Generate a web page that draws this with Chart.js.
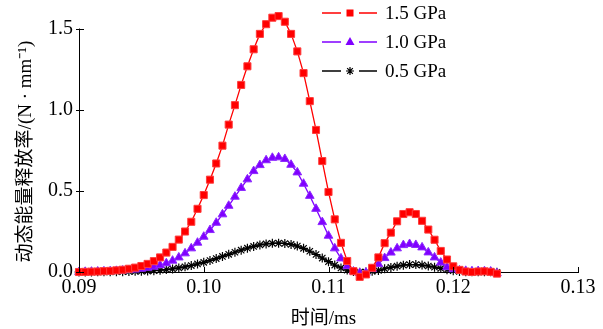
<!DOCTYPE html>
<html>
<head>
<meta charset="utf-8">
<script src="https://cdn.jsdelivr.net/npm/chart.js@4.4.1/dist/chart.umd.min.js"></script>
<style>
  body { margin: 0; background: #fff; }
  #wrap { width: 603px; height: 329px; }
</style>
</head>
<body>
<div id="wrap"><canvas id="myChart" width="603" height="329"></canvas></div>
<script>
// time axis (ms), one sample every 0.0005 ms
const times = [
  0.0900, 0.0905, 0.0910, 0.0915, 0.0920, 0.0925, 0.0930, 0.0935, 0.0940, 0.0945,
  0.0950, 0.0955, 0.0960, 0.0965, 0.0970, 0.0975, 0.0980, 0.0985, 0.0990, 0.0995,
  0.1000, 0.1005, 0.1010, 0.1015, 0.1020, 0.1025, 0.1030, 0.1035, 0.1040, 0.1045,
  0.1050, 0.1055, 0.1060, 0.1065, 0.1070, 0.1075, 0.1080, 0.1085, 0.1090, 0.1095,
  0.1100, 0.1105, 0.1110, 0.1115, 0.1120, 0.1125, 0.1130, 0.1135, 0.1140, 0.1145,
  0.1150, 0.1155, 0.1160, 0.1165, 0.1170, 0.1175, 0.1180, 0.1185, 0.1190, 0.1195,
  0.1200, 0.1205, 0.1210, 0.1215, 0.1220, 0.1225, 0.1230, 0.1235
];

// 1.5 GPa
const gpa15 = [
  0.000, 0.001, 0.002, 0.003, 0.005, 0.007, 0.010, 0.014, 0.020, 0.027,
  0.037, 0.050, 0.067, 0.090, 0.120, 0.155, 0.200, 0.250, 0.310, 0.390,
  0.475, 0.570, 0.670, 0.780, 0.910, 1.030, 1.155, 1.270, 1.375, 1.470,
  1.530, 1.570, 1.580, 1.545, 1.470, 1.362, 1.228, 1.055, 0.877, 0.685,
  0.494, 0.325, 0.180, 0.068, 0.005, -0.030, -0.015, 0.026, 0.090, 0.178,
  0.243, 0.313, 0.358, 0.369, 0.358, 0.316, 0.262, 0.199, 0.130, 0.077,
  0.035, 0.013, 0.003, 0.000, 0.003, 0.004, 0.001, -0.010
];

// 1.0 GPa
const gpa10 = [
  0.000, 0.001, 0.002, 0.003, 0.004, 0.005, 0.007, 0.009, 0.012, 0.015,
  0.020, 0.026, 0.033, 0.042, 0.054, 0.070, 0.090, 0.115, 0.146, 0.181,
  0.218, 0.259, 0.304, 0.356, 0.409, 0.465, 0.519, 0.572, 0.623, 0.660,
  0.690, 0.705, 0.708, 0.698, 0.662, 0.615, 0.545, 0.470, 0.390, 0.308,
  0.224, 0.146, 0.084, 0.036, 0.003, -0.006, -0.004, 0.018, 0.049, 0.086,
  0.120, 0.146, 0.166, 0.173, 0.167, 0.152, 0.121, 0.090, 0.058, 0.030,
  0.017, 0.010, 0.007, 0.005, 0.006, 0.005, 0.003, -0.008
];

// 0.5 GPa
const gpa05 = [
  0.000, 0.000, 0.000, 0.001, 0.001, 0.001, 0.002, 0.002, 0.003, 0.004,
  0.005, 0.006, 0.008, 0.011, 0.015, 0.019, 0.025, 0.032, 0.040, 0.050,
  0.060, 0.071, 0.083, 0.096, 0.109, 0.122, 0.135, 0.147, 0.158, 0.167,
  0.173, 0.177, 0.178, 0.176, 0.170, 0.160, 0.146, 0.128, 0.108, 0.086,
  0.064, 0.043, 0.025, 0.012, 0.003, -0.001, 0.000, 0.004, 0.010, 0.020,
  0.028, 0.036, 0.042, 0.046, 0.046, 0.043, 0.037, 0.030, 0.022, 0.014,
  0.008, 0.003, 0.002, 0.002, 0.001, 0.001, 0.001, -0.002
];

const seriesNames = ["1.5 GPa", "1.0 GPa", "0.5 GPa"];
const xTicks = [0.09, 0.10, 0.11, 0.12, 0.13];
const yTicks = [0.0, 0.5, 1.0, 1.5];
const xTitle = "时间/ms";
const yTitle = "动态能量释放率/(N · mm⁻¹)";

const serif = "'Liberation Serif', 'Times New Roman', 'Noto Sans CJK SC', serif";

const toPoints = (ys) => times.map((t, i) => ({ x: t, y: ys[i] }));

const datasets = [
  {
    label: seriesNames[0],
    data: toPoints(gpa15),
    borderColor: "rgb(255, 0, 0)",
    backgroundColor: "rgb(255, 0, 0)",
    pointStyle: "rect",
    pointRadius: 5,
    pointBorderWidth: 1,
    pointBorderColor: "rgb(255, 60, 60)",
    borderWidth: 1.3,
    clip: false,
  },
  {
    label: seriesNames[1],
    data: toPoints(gpa10),
    borderColor: "rgb(128, 0, 255)",
    backgroundColor: "rgb(128, 0, 255)",
    pointStyle: "triangle",
    pointRadius: 5,
    pointBorderWidth: 1,
    pointBorderColor: "rgb(140, 40, 255)",
    borderWidth: 1.3,
    clip: false,
  },
  {
    label: seriesNames[2],
    data: toPoints(gpa05),
    borderColor: "rgb(0, 0, 0)",
    backgroundColor: "rgb(0, 0, 0)",
    pointStyle: "star",
    pointRadius: 4.5,
    pointBorderWidth: 1.2,
    borderWidth: 1.3,
    clip: false,
  },
];

// small markers for the legend
const drawMarker = (ctx, style, x, y, color) => {
  ctx.save();
  ctx.fillStyle = color;
  ctx.strokeStyle = color;
  ctx.lineWidth = 1.2;
  if (style === "rect") {
    ctx.fillRect(x - 3.5, y - 3.5, 7, 7);
  } else if (style === "triangle") {
    ctx.beginPath();
    ctx.moveTo(x, y - 5);
    ctx.lineTo(x + 4.5, y + 3);
    ctx.lineTo(x - 4.5, y + 3);
    ctx.closePath();
    ctx.fill();
  } else {
    ctx.beginPath();
    for (let k = 0; k < 4; k++) {
      const a = k * Math.PI / 4;
      ctx.moveTo(x - 4 * Math.cos(a), y - 4 * Math.sin(a));
      ctx.lineTo(x + 4 * Math.cos(a), y + 4 * Math.sin(a));
    }
    ctx.stroke();
  }
  ctx.restore();
};

// axis line, inward ticks, titles and the legend
const decorations = {
  id: "decorations",
  afterDraw(chart) {
    const ctx = chart.ctx;
    const xs = chart.scales.x;
    const ys = chart.scales.y;
    const y0 = ys.getPixelForValue(0);
    const yTop = ys.getPixelForValue(yTicks[yTicks.length - 1]);

    ctx.save();
    ctx.strokeStyle = "#000";
    ctx.lineWidth = 1;
    ctx.beginPath();
    // y axis line stops at the last tick
    const ax = Math.round(xs.left) + 0.5;
    ctx.moveTo(ax, y0);
    ctx.lineTo(ax, Math.round(yTop) - 0.5);
    xTicks.forEach((v) => {
      const px = Math.round(xs.getPixelForValue(v)) + 0.5;
      ctx.moveTo(px, y0 + 1);
      ctx.lineTo(px, y0 - 5);
    });
    yTicks.forEach((v) => {
      const py = Math.round(ys.getPixelForValue(v)) + 0.5;
      ctx.moveTo(xs.left - 3, py);
      ctx.lineTo(xs.left + 5, py);
    });
    ctx.stroke();

    // titles
    ctx.fillStyle = "#000";
    ctx.textAlign = "center";
    ctx.textBaseline = "middle";
    ctx.font = "19px " + serif;
    ctx.fillText(xTitle, (xs.left + xs.right) / 2 - 5, 319);
    ctx.translate(26, (y0 + yTop) / 2 + 1);
    ctx.rotate(-Math.PI / 2);
    ctx.font = "19px " + serif;
    ctx.fillText(yTitle, 0, 0);
    ctx.restore();

    // legend
    const rows = [13, 42, 71];
    chart.data.datasets.forEach((ds, i) => {
      const y = rows[i];
      ctx.save();
      ctx.strokeStyle = ds.borderColor;
      ctx.lineWidth = 1.3;
      ctx.beginPath();
      ctx.moveTo(322, y);
      ctx.lineTo(341, y);
      ctx.moveTo(359, y);
      ctx.lineTo(377, y);
      ctx.stroke();
      drawMarker(ctx, ds.pointStyle, 350, y, ds.borderColor);
      ctx.fillStyle = "#000";
      ctx.font = "19px " + serif;
      ctx.textBaseline = "middle";
      ctx.fillText(ds.label, 385, y + 1);
      ctx.restore();
    });
  },
};

const config = {
  type: "line",
  data: { datasets },
  options: {
    responsive: false,
    animation: false,
    devicePixelRatio: 1,
    // headroom above 1.5 so the peak markers still get drawn
    layout: { padding: { top: 9.6, right: 25, left: 0, bottom: 0 } },
    plugins: { legend: { display: false }, tooltip: { enabled: false } },
    scales: {
      x: {
        type: "linear",
        min: 0.09,
        max: 0.13,
        afterFit: (scale) => { scale.height = 57; },
        afterBuildTicks: (scale) => { scale.ticks = xTicks.map((v) => ({ value: v })); },
        grid: { display: true, drawOnChartArea: false, drawTicks: false },
        border: { color: "#000", width: 1 },
        ticks: {
          color: "#000",
          padding: 4,
          font: { family: serif, size: 20 },
          callback: (v) => v.toFixed(2),
        },
      },
      y: {
        min: 0,
        max: 1.62,
        afterFit: (scale) => {
          scale.width = 79;
          scale.paddingTop = 0;
          scale.paddingBottom = 0;
        },
        afterBuildTicks: (scale) => { scale.ticks = yTicks.map((v) => ({ value: v })); },
        grid: { display: false, drawTicks: false },
        border: { display: false },
        ticks: {
          color: "#000",
          padding: 6,
          font: { family: serif, size: 20 },
          callback: (v) => v.toFixed(1),
        },
      },
    },
  },
  plugins: [decorations],
};

const myChart = new Chart(document.getElementById("myChart"), config);
</script>
</body>
</html>
